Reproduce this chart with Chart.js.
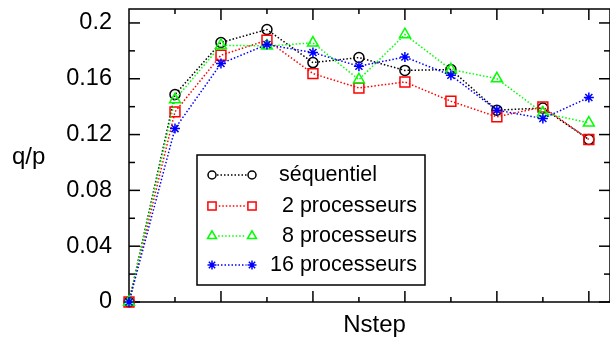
<!DOCTYPE html>
<html><head><meta charset="utf-8">
<script src="https://cdn.jsdelivr.net/npm/chart.js@4/dist/chart.umd.min.js"></script>
<style>html,body{margin:0;padding:0;background:#fff;overflow:hidden}#wrap{width:610px;height:338px}</style>
</head><body><div id="wrap"><canvas id="c" width="610" height="338"></canvas></div>
<script>
const nsteps = [0, 1, 2, 3, 4, 5, 6, 7, 8, 9, 10];
const sequentiel = [0, 0.1487, 0.1860, 0.1953, 0.1716, 0.1752, 0.1660, 0.1666, 0.1375, 0.1390, 0.1165];
const proc2      = [0, 0.1363, 0.1769, 0.1876, 0.1637, 0.1534, 0.1577, 0.1439, 0.1327, 0.1398, 0.1165];
const proc8      = [0, 0.1451, 0.1840, 0.1835, 0.1857, 0.1594, 0.1917, 0.1666, 0.1601, 0.1355, 0.1284];
const proc16     = [0, 0.1243, 0.1709, 0.1845, 0.1788, 0.1690, 0.1756, 0.1625, 0.1375, 0.1315, 0.1466];
const seriesNames = ['séquentiel', '2 processeurs', '8 processeurs', '16 processeurs'];
const yMajorTicks = [0, 0.04, 0.08, 0.12, 0.16, 0.2];
const yTickLabels = ['0', '0.04', '0.08', '0.12', '0.16', '0.2'];
const yMinorTicks = [0.02, 0.06, 0.1, 0.14, 0.18];
const xMajorTicks = [2, 4, 6, 8, 10];
const xMinorTicks = [1, 3, 5, 7, 9];
const xTitle = 'Nstep';
const yTitle = 'q/p';

const FONT = '"Liberation Sans", Arial, Helvetica, sans-serif';
const allSeries = [sequentiel, proc2, proc8, proc16];
const styles = [
  {color: '#000000', pointStyle: 'circle',   radius: 5,   legendRadius: 4,   order: 3},
  {color: '#ff0000', pointStyle: 'rect',     radius: 7,   legendRadius: 5.8, order: 2},
  {color: '#00ff00', pointStyle: 'triangle', radius: 6.3, legendRadius: 5.2, order: 1},
  {color: '#0000ff', pointStyle: 'star',     radius: 5,   legendRadius: 4.5, order: 0}
];

const datasets = allSeries.map((vals, i) => ({
  label: seriesNames[i],
  data: nsteps.map((n, j) => ({x: n, y: vals[j]})),
  borderColor: styles[i].color,
  backgroundColor: 'rgba(0,0,0,0)',
  borderWidth: 1.5,
  borderDash: [1.5, 2],
  pointStyle: styles[i].pointStyle,
  pointRadius: styles[i].radius,
  pointBorderColor: styles[i].color,
  pointBackgroundColor: 'rgba(0,0,0,0)',
  pointBorderWidth: 1.5,
  tension: 0,
  clip: false,
  order: styles[i].order
}));

function drawMarker(ctx, style, r, x, y) {
  ctx.save();
  ctx.setLineDash([]);
  ctx.strokeStyle = style.color;
  ctx.fillStyle = 'rgba(0,0,0,0)';
  ctx.lineWidth = 1.5;
  if (Chart.helpers && Chart.helpers.drawPoint) {
    Chart.helpers.drawPoint(ctx, {pointStyle: style.pointStyle, radius: r, rotation: 0, borderWidth: 1.5}, x, y);
  }
  ctx.restore();
}

const framePlugin = {
  id: 'frame',
  beforeDatasetsDraw(chart) {
    const {ctx, chartArea: a, scales: {x, y}} = chart;
    ctx.save();
    ctx.strokeStyle = '#000';
    ctx.lineWidth = 1.5;
    ctx.setLineDash([]);
    ctx.strokeRect(a.left, a.top, a.right - a.left, a.bottom - a.top);
    const seg = (x1, y1, x2, y2) => { ctx.beginPath(); ctx.moveTo(x1, y1); ctx.lineTo(x2, y2); ctx.stroke(); };
    yMajorTicks.forEach(v => { const p = y.getPixelForValue(v); seg(a.left, p, a.left + 11, p); seg(a.right, p, a.right - 11, p); });
    yMinorTicks.forEach(v => { const p = y.getPixelForValue(v); seg(a.left, p, a.left + 6, p); seg(a.right, p, a.right - 6, p); });
    xMajorTicks.forEach(v => { const p = x.getPixelForValue(v); seg(p, a.bottom, p, a.bottom - 11); seg(p, a.top, p, a.top + 11); });
    xMinorTicks.forEach(v => { const p = x.getPixelForValue(v); seg(p, a.bottom, p, a.bottom - 5); seg(p, a.top, p, a.top + 5); });
    ctx.restore();
  },
  afterDatasetsDraw(chart) {
    const {ctx} = chart;
    ctx.save();
    ctx.fillStyle = '#000';
    ctx.font = '24px ' + FONT;
    ctx.textAlign = 'left';
    ctx.textBaseline = 'alphabetic';
    ctx.fillText(yTitle, 12, 164);
    ctx.textAlign = 'center';
    ctx.fillText(xTitle, 374.5, 332);
    const bx = 197, by = 155, bw = 228, bh = 130;
    ctx.fillStyle = '#fff';
    ctx.fillRect(bx, by, bw, bh);
    ctx.strokeStyle = '#000';
    ctx.lineWidth = 1.5;
    ctx.strokeRect(bx, by, bw, bh);
    const rows = [175, 206, 236, 265];
    ctx.font = '21.5px ' + FONT;
    ctx.textBaseline = 'middle';
    seriesNames.forEach((name, i) => {
      const st = styles[i], yy = rows[i];
      const x1 = 212, x2 = 252, r = st.legendRadius;
      ctx.save();
      ctx.strokeStyle = st.color;
      ctx.lineWidth = 1.5;
      ctx.setLineDash([1.5, 2]);
      ctx.beginPath(); ctx.moveTo(x1 + r + 1, yy); ctx.lineTo(x2 - r - 1, yy); ctx.stroke();
      ctx.restore();
      drawMarker(ctx, st, r, x1, yy);
      drawMarker(ctx, st, r, x2, yy);
      ctx.fillStyle = '#000';
      if (i === 0) { ctx.textAlign = 'left'; ctx.fillText(name, 279, yy); }
      else { ctx.textAlign = 'right'; ctx.fillText(name, 417, yy); }
    });
    ctx.restore();
  }
};

new Chart(document.getElementById('c'), {
  type: 'line',
  data: {datasets},
  options: {
    responsive: false,
    animation: false,
    devicePixelRatio: 1,
    layout: {autoPadding: false, padding: {left: 0, top: 9, right: -8, bottom: 36}},
    plugins: {legend: {display: false}, tooltip: {enabled: false}},
    scales: {
      x: {type: 'linear', min: 0, max: 10.46, display: false},
      y: {
        type: 'linear', min: 0, max: 0.21,
        afterBuildTicks: s => { s.ticks = yMajorTicks.map(v => ({value: v})); },
        afterFit: s => { s.width = 129; s.paddingTop = 0; s.paddingBottom = 0; },
        grid: {display: false},
        border: {display: false},
        ticks: {
          font: {family: FONT, size: 23.5},
          color: '#000',
          padding: 9,
          autoSkip: false,
          callback: (v, i) => yTickLabels[i]
        }
      }
    }
  },
  plugins: [framePlugin]
});
</script>
</body></html>
